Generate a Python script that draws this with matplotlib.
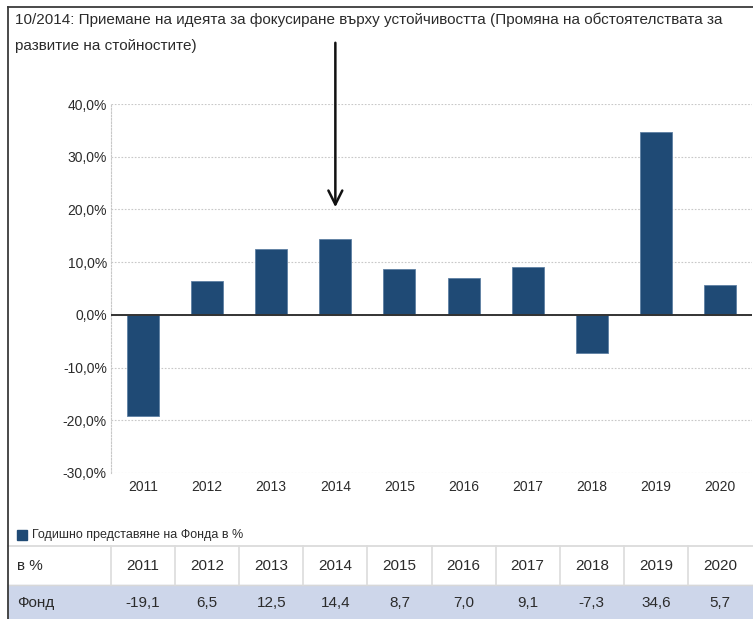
import matplotlib
matplotlib.use("Agg")
import matplotlib.pyplot as plt
from matplotlib.patches import Rectangle
from matplotlib.lines import Line2D
from matplotlib.ticker import FuncFormatter, MultipleLocator

plt.rcParams['font.family'] = ['Liberation Sans', 'DejaVu Sans']

years = ['2011', '2012', '2013', '2014', '2015', '2016', '2017', '2018', '2019', '2020']
fund = [-19.1, 6.5, 12.5, 14.4, 8.7, 7.0, 9.1, -7.3, 34.6, 5.7]
title_lines = ["10/2014: Приемане на идеята за фокусиране върху устойчивостта (Промяна на обстоятелствата за",
               "развитие на стойностите)"]
legend_label = "Годишно представяне на Фонда в %"
row_header = "в %"
row_label = "Фонд"
marked_year = '2014'

W, H = 753, 619
fig = plt.figure(figsize=(W / 100, H / 100), dpi=100)

def fx(px):
    return px / W

def fy(py):
    return 1 - py / H

bar_color = '#1f4a75'
txt = '#2b2b2b'

# plot area
ax = fig.add_axes([fx(111), fy(473), fx(752) - fx(111), fy(104) - fy(473)])
x = list(range(len(years)))
ax.bar(x, fund, width=0.5, color=bar_color, edgecolor='#5d7fa3', linewidth=0.6, zorder=3)
ax.set_xlim(-0.5, len(years) - 0.5)
ax.set_ylim(-30, 40)
ax.yaxis.set_major_locator(MultipleLocator(10))
ax.yaxis.set_major_formatter(FuncFormatter(lambda v, p: f"{v:.1f}%".replace('.', ',')))
ax.set_xticks(x)
ax.set_xticklabels(years)
ax.tick_params(axis='both', length=0, labelsize=10, colors=txt)
ax.tick_params(axis='x', pad=5)
ax.tick_params(axis='y', pad=3)
ax.grid(axis='y', linestyle=(0, (1.5, 1.5)), color='#c8c8c8', linewidth=0.8, zorder=0)
for s in ['top', 'right', 'bottom']:
    ax.spines[s].set_visible(False)
ax.spines['left'].set_linestyle((0, (1.5, 1.5)))
ax.spines['left'].set_color('#c8c8c8')
ax.spines['left'].set_linewidth(0.8)
ax.axhline(0, color='#333333', linewidth=1.4, zorder=4)
ax.set_facecolor('white')

# arrow pointing to the marked year
mi = years.index(marked_year)
ax.annotate('', xy=(mi, 40 - (210 - 104) / (473 - 104) * 70), xycoords='data',
            xytext=(mi, 40 + (104 - 40) / (473 - 104) * 70), textcoords='data',
            arrowprops=dict(arrowstyle='->,head_length=1.0,head_width=0.5', color='#111111', lw=1.8),
            annotation_clip=False, zorder=6)

# title
fig.text(fx(15), fy(20), title_lines[0], fontsize=11, color=txt, va='center', ha='left')
fig.text(fx(15), fy(46), title_lines[1], fontsize=11, color=txt, va='center', ha='left')

# legend
fig.patches.append(Rectangle((fx(17), fy(540)), fx(10), fy(530) - fy(540), color=bar_color,
                             transform=fig.transFigure, figure=fig))
fig.text(fx(32), fy(535), legend_label, fontsize=9, color=txt, va='center', ha='left')

# table
top, mid, bot = 546, 585, 619
first_w = 111
colw = (752 - first_w) / len(years)
fig.patches.append(Rectangle((fx(8), fy(bot)), fx(W) - fx(8), fy(mid) - fy(bot),
                             color='#cdd6ea', transform=fig.transFigure, figure=fig, zorder=0))
fig.lines.append(Line2D([fx(8), fx(W)], [fy(top), fy(top)], color='#d8d8d8', lw=1.2,
                        transform=fig.transFigure))
fig.lines.append(Line2D([fx(8), fx(W)], [fy(mid), fy(mid)], color='#d8d8d8', lw=1.0,
                        transform=fig.transFigure))
for i in range(len(years)):
    xs = first_w + i * colw
    fig.lines.append(Line2D([fx(xs), fx(xs)], [fy(top), fy(mid)], color='#dcdcdc', lw=1.2,
                            transform=fig.transFigure))
fig.text(fx(17), fy(566), row_header, fontsize=11, color=txt, va='center', ha='left')
fig.text(fx(17), fy(603), row_label, fontsize=11, color=txt, va='center', ha='left')
for i, (yr, v) in enumerate(zip(years, fund)):
    cx = first_w + (i + 0.5) * colw
    fig.text(fx(cx), fy(566), yr, fontsize=11, color=txt, va='center', ha='center')
    fig.text(fx(cx), fy(603), f"{v:.1f}".replace('.', ','), fontsize=11, color=txt,
             va='center', ha='center')

# outer frame (top and left)
fig.lines.append(Line2D([fx(8), fx(W)], [fy(7), fy(7)], color='#3a3a3a', lw=1.3,
                        transform=fig.transFigure))
fig.lines.append(Line2D([fx(8), fx(8)], [fy(7), fy(H)], color='#3a3a3a', lw=1.3,
                        transform=fig.transFigure))

fig.savefig('out.png', dpi=100, facecolor='white')
